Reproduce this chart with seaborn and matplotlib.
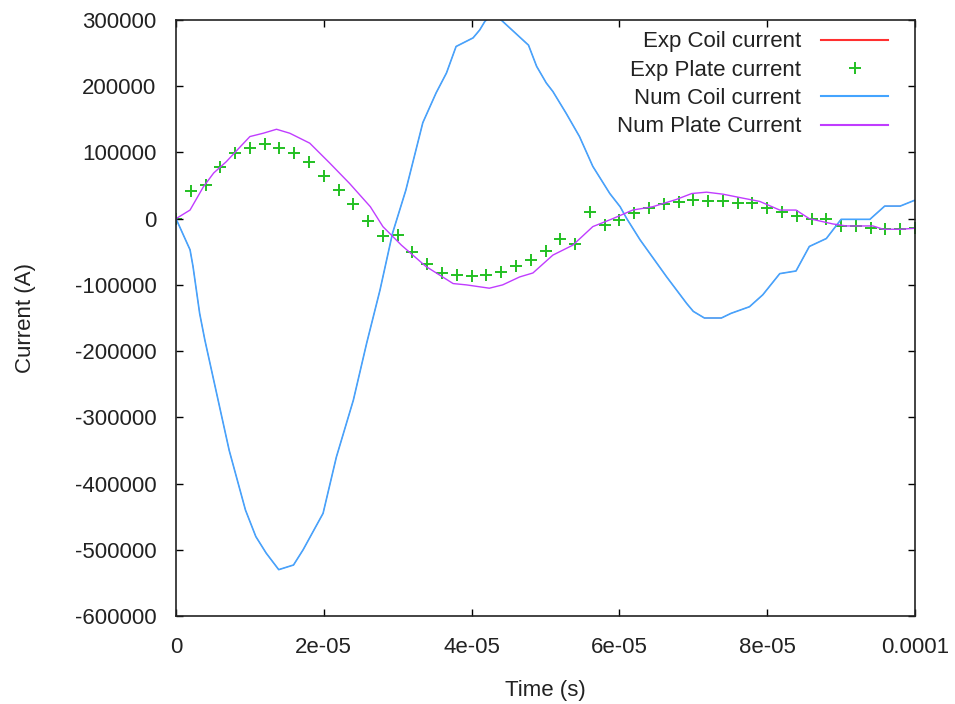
#!/usr/bin/env python3

# import packages
import pandas as pd
import seaborn as sns
import matplotlib
matplotlib.use('Agg')
import matplotlib.pyplot as plt
from matplotlib.lines import Line2D
from matplotlib.ticker import FuncFormatter

# coil current (same curve for experiment and simulation), time in us, current in kA
coil_t = [0, 1.9, 2.3, 3.2, 3.9, 5.5, 7.2, 9.4, 10.8, 12.2, 13.9, 15.9, 17.2, 19.9,
          21.7, 24.0, 25.8, 27.6, 29.3, 31.1, 33.4, 35.2, 36.6, 37.9, 40.2, 41.1,
          41.8, 43.0, 44.0, 47.7, 48.8, 50.1, 51.0, 52.8, 54.6, 56.4, 58.7, 60.1,
          61.0, 62.8, 66.4, 69.1, 70.0, 71.5, 73.8, 75.1, 77.6, 79.4, 81.7, 83.9,
          85.7, 88.0, 90.0, 93.9, 95.9, 98.0, 100]
coil_i = [0, -47, -72, -143, -183, -264, -350, -440, -480, -505, -530, -523, -500, -445,
          -360, -274, -188, -108, -22, 43, 145, 190, 220, 260, 273, 285,
          298, 310, 300, 262, 230, 205, 192, 159, 124, 79, 38, 18,
          0, -32, -88, -128, -140, -150, -150, -143, -133, -115, -83, -79,
          -42, -30, -1, -1, 19, 19, 28]

# measured plate current, one point every 2 us
exp_plate_t = list(range(0, 101, 2))
exp_plate_i = [0, 42, 51, 78, 99, 107, 112, 107, 99, 85, 64.5, 43, 22, -3, -26, -25,
               -50, -69, -82, -85, -86.5, -84.5, -81, -71, -62, -49, -30, -38, 10,
               -9.5, -2.5, 8, 16.6, 21.7, 25.7, 28, 27, 26, 24, 23, 15.7, 9.7, 4.5,
               -1, -1, -11, -11, -13.6, -16, -16, -14.5]

# simulated plate current
num_plate_t = [0, 1.9, 3.7, 5.1, 6.8, 8.9, 10.0, 11.8, 13.6, 15.4, 18.1, 20.8, 23.5,
               26.3, 28.0, 30.5, 33.8, 37.5, 39.3, 42.4, 44.2, 46.5, 48.3, 51.0, 53.7,
               56.4, 59.1, 61.8, 64.5, 67.7, 69.8, 71.8, 74.0, 76.7, 79.0, 81.7, 83.9,
               85.7, 88.9, 90.7, 94.3, 95.7, 98.0, 100]
num_plate_i = [0, 13, 48, 69, 86, 111, 124, 129, 135, 129, 114, 84, 53,
               18, -12, -40, -72, -98, -100, -105, -100, -88, -82, -55, -40,
               -12, 0, 13, 18, 29, 38, 40, 37, 31, 26, 13, 13,
               0, -8, -11, -11, -16, -16, -14.5]

labels = ['Exp Coil current', 'Exp Plate current', 'Num Coil current', 'Num Plate Current']
colors = ['#ff3030', '#22c022', '#44a4ff', '#c03cff']


def frame(t, i):
    return pd.DataFrame({'t': [v * 1e-6 for v in t], 'i': [v * 1e3 for v in i]})


coil = frame(coil_t, coil_i)
exp_plate = frame(exp_plate_t, exp_plate_i)
num_plate = frame(num_plate_t, num_plate_i)

plt.rcParams['font.family'] = ['Liberation Sans', 'DejaVu Sans']
plt.rcParams['font.size'] = 16
plt.rcParams['text.color'] = '#222222'
plt.rcParams['axes.labelcolor'] = '#222222'
plt.rcParams['xtick.labelcolor'] = '#222222'
plt.rcParams['ytick.labelcolor'] = '#222222'

fig = plt.figure(figsize=(9.55, 7.04), dpi=100)
ax = fig.add_axes([176 / 955, 88 / 704, 739 / 955, 596 / 704])

# red (experiment) sits just under the blue (simulation) line
sns.lineplot(data=coil, x='t', y='i', ax=ax, color=colors[0], lw=0.5,
             sort=False, estimator=None)
sns.scatterplot(data=exp_plate, x='t', y='i', ax=ax, color=colors[1], marker='+',
                s=80, linewidth=1.4)
sns.lineplot(data=coil, x='t', y='i', ax=ax, color=colors[2], lw=1.2,
             sort=False, estimator=None)
sns.lineplot(data=num_plate, x='t', y='i', ax=ax, color=colors[3], lw=1.0,
             sort=False, estimator=None)

ax.set_xlim(0, 1e-4)
ax.set_ylim(-600000, 300000)
ax.set_xticks([0, 2e-5, 4e-5, 6e-5, 8e-5, 1e-4])
ax.set_yticks(range(-600000, 300001, 100000))
ax.xaxis.set_major_formatter(FuncFormatter(lambda v, p: '%g' % v))
ax.yaxis.set_major_formatter(FuncFormatter(lambda v, p: '%g' % v))
ax.tick_params(direction='in', length=5, width=1, top=True, right=True)
ax.tick_params(axis='x', pad=15)
ax.tick_params(axis='y', pad=14)
for s in ax.spines.values():
    s.set_linewidth(1.2)
    s.set_color('#222222')

ax.set_xlabel('Time (s)', labelpad=16)
ax.set_ylabel('Current (A)', labelpad=28)

handles = [Line2D([], [], color=colors[0], lw=1.5),
           Line2D([], [], color=colors[1], marker='+', ls='none', ms=9, mew=1.4),
           Line2D([], [], color=colors[2], lw=1.5),
           Line2D([], [], color=colors[3], lw=1.5)]
ax.legend(handles, labels, loc='upper right', bbox_to_anchor=(0.9725, 0.992),
          frameon=False, markerfirst=False, handlelength=3.0, handletextpad=0.9,
          labelspacing=0.33, borderaxespad=0, borderpad=0.3)

plt.savefig('out.png', dpi=100)
